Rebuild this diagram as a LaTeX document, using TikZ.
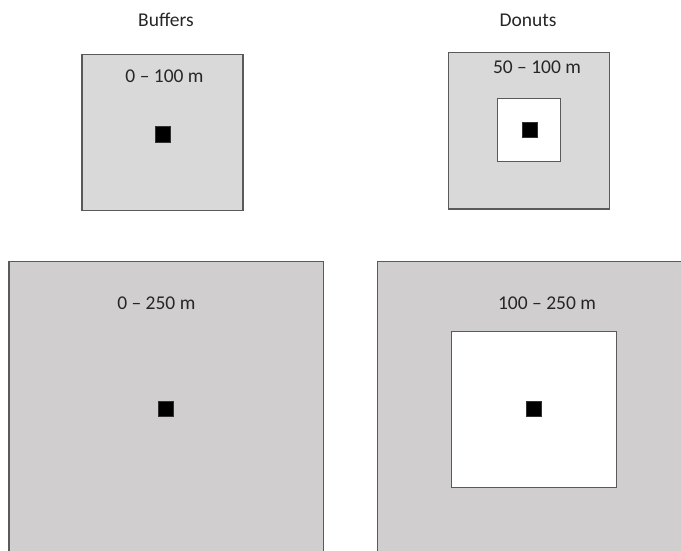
\documentclass[tikz,border=0pt]{standalone}
\usepackage{fontspec}
\setmainfont{Carlito}
\usepackage{tikz}
\usetikzlibrary{positioning}

\definecolor{zonegray}{HTML}{D9D9D9}
\definecolor{bandgray}{HTML}{D0CECE}
\definecolor{edgegray}{HTML}{5A5A5A}

\tikzset{
  zone/.style={draw=edgegray, line width=1.2pt, fill=zonegray, inner sep=0pt},
  hole/.style={draw=edgegray, line width=1pt, fill=white, inner sep=0pt},
  site/.style={draw=black!80, line width=0.4pt, fill=black, inner sep=0pt, minimum size=15.5pt},
  lbl/.style={anchor=base, inner sep=0pt, text=black!85, font=\fontsize{19.5}{23}\selectfont}
}

\begin{document}
\begin{tikzpicture}[x=1pt, y=-1pt]
            % Page frame (pixel grid, y pointing down)
            \useasboundingbox (0,0) rectangle (681,551);
            \clip (0,0) rectangle (681,551);

            % Column headings
            \node[lbl] (hbuf) at (166,26.7) {Buffers};
            \node[lbl] (hdon) at (528,26.7) {Donuts};

            % Buffer 0 - 100 m
            \node[zone, minimum width=161pt, minimum height=156.5pt] (buf1) at (162.5,132.5) {};
            \node[site] (s1) at (162.5,134) {};
            \node[lbl] (t1) at (164.5,82.7) {0 -- 100 m};

            % Donut 50 - 100 m
            \node[zone, minimum width=161pt, minimum height=156.7pt] (don1) at (528.8,130.7) {};
            \node[hole, minimum width=62.7pt, minimum height=63pt] (in1) at (528.7,129.8) {};
            \node[site] (s2) at (529.5,129.8) {};
            \node[lbl] (t2) at (537,74) {50 -- 100 m};

            % Buffer 0 - 250 m (runs off the page)
            \node[zone, fill=bandgray, minimum width=314.3pt, minimum height=300pt] (buf2) at (166.15,411.7) {};
            \node[site] (s3) at (165.5,408.8) {};
            \node[lbl] (t3) at (156.3,309.3) {0 -- 250 m};

            % Donut 100 - 250 m (runs off the page)
            \node[zone, fill=bandgray, minimum width=314.3pt, minimum height=300pt] (don2) at (534.45,411.7) {};
            \node[hole, minimum width=165pt, minimum height=156.3pt] (in2) at (534.2,409.2) {};
            \node[site] (s4) at (533.8,408.8) {};
            \node[lbl] (t4) at (547,309.3) {100 -- 250 m};
        \end{tikzpicture}
\end{document}
